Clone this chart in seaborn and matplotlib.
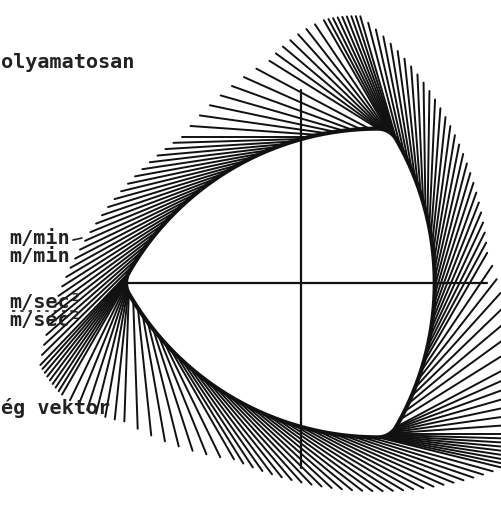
import numpy as np
import pandas as pd
import matplotlib
matplotlib.use("Agg")
import matplotlib.pyplot as plt
import seaborn as sns

# Rounded Reuleaux path (screen pixels)
center_x, center_y = 301.0, 283.0
corner_dist = 154.0          # centre -> sharp corner of the inner Reuleaux triangle
corner_round = 21.0          # rounding radius at the corners
corner_share = 0.30          # share of each lobe's time spent turning a corner
n_vectors = 150              # velocity samples along the path
lag_steps = 8.0              # the velocity direction trails the path by this many samples
vector_length = 128.0

# Coordinate cross
h_axis = [127.0, 487.0]
v_axis = [90.0, 468.0]

# Caption fragments along the left margin
texts = ["olyamatosan", "m/min", "m/min", "m/sec²", "m/sec²", "ég vektor"]

side = corner_dist * np.sqrt(3.0)
vertex_dirs = np.deg2rad([180.0, 300.0, 60.0])
HALF = np.deg2rad(60.0)


def unit(a):
    return np.array([np.cos(a), np.sin(a)])


def normal_angle(tau):
    """Outward normal angle (rad) at time tau, measured in lobes (0..3)."""
    tau = np.mod(tau, 3.0)
    k = int(np.floor(tau)) % 3
    f = tau - np.floor(tau)
    base = vertex_dirs[k] - np.deg2rad(30.0)
    if f < corner_share:
        return base + HALF * f / corner_share
    return base + HALF + HALF * (f - corner_share) / (1 - corner_share)


def boundary_point(psi):
    offs = [np.mod(psi - vertex_dirs[k] + np.deg2rad(30.0), 2 * np.pi) for k in range(3)]
    offs = [0.0 if o > 2 * np.pi - 1e-9 else o for o in offs]
    k = int(np.argmin(offs))
    if offs[k] < HALF:
        return corner_dist * unit(vertex_dirs[k]) + corner_round * unit(psi)
    opp = vertex_dirs[k] + np.deg2rad(240.0)
    return corner_dist * unit(opp) + (side + corner_round) * unit(psi)


def to_screen(p):
    return center_x + p[0], center_y - p[1]


per_lobe = n_vectors / 3
rows = []
for i in range(n_vectors):
    tau = i / per_lobe
    p = boundary_point(normal_angle(tau))
    heading = normal_angle(tau - lag_steps / per_lobe) + np.pi / 2
    q = p + vector_length * unit(heading)
    x0, y0 = to_screen(p)
    x1, y1 = to_screen(q)
    rows += [(i, x0, y0), (i, x1, y1)]
seg = pd.DataFrame(rows, columns=["seg", "x", "y"])

sns.set_theme(style="white")
fig = plt.figure(figsize=(5.02, 5.07), dpi=100)
ax = fig.add_axes([0, 0, 1, 1])
ax.set_xlim(0, 502)
ax.set_ylim(507, 0)
ax.axis("off")

sns.lineplot(data=seg, x="x", y="y", units="seg", estimator=None, sort=False,
             color="#111111", lw=1.4, ax=ax, legend=False)

taus = np.linspace(0, 3, 900)
pts = np.array([to_screen(boundary_point(normal_angle(s))) for s in taus])
path = pd.DataFrame({"x": pts[:, 0], "y": pts[:, 1]})
sns.lineplot(data=path, x="x", y="y", sort=False, estimator=None,
             color="#111111", lw=3.0, ax=ax)

ax.plot(h_axis, [center_y, center_y], color="#111111", lw=1.6)
ax.plot([center_x, center_x], v_axis, color="#111111", lw=1.6)

font = dict(family="DejaVu Sans Mono", fontweight="bold", fontsize=14.5,
            color="#222222", va="center")
ax.text(1, 62, texts[0], ha="left", **font)
ax.text(9, 238, texts[1], ha="left", **font)
ax.text(9, 257, texts[2], ha="left", **font)
ax.text(9, 302, texts[3], ha="left", **font)
ax.text(9, 321, texts[4], ha="left", **font)
ax.text(1, 408, texts[5], ha="left", **font)
ax.plot([12, 74], [311, 311], color="#222222", lw=1.2, ls=(0, (2, 3)))
ax.plot([73, 82], [240, 238], color="#222222", lw=1.2)

ax.set_xlabel("")
ax.set_ylabel("")
fig.savefig("out.png", dpi=100)
